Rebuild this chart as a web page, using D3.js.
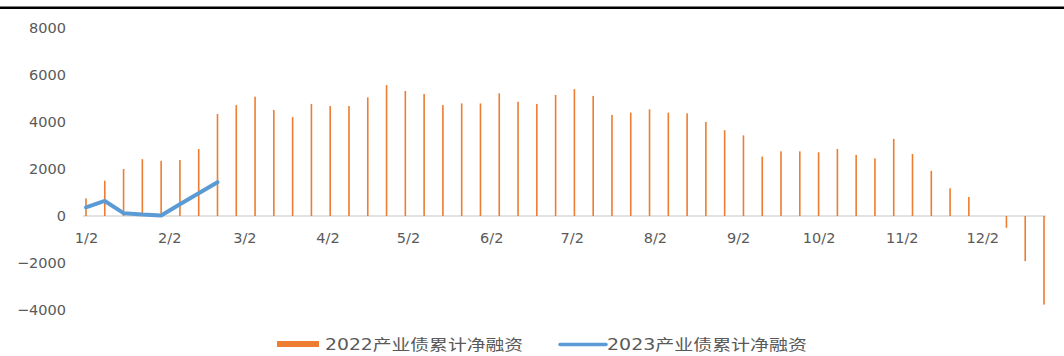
<!DOCTYPE html>
<html>
<head>
<meta charset="utf-8">
<script src="https://cdn.jsdelivr.net/npm/d3@7"></script>
<style>
  html, body { margin: 0; padding: 0; background: #fff; }
  svg { display: block; }
</style>
</head>
<body>
<svg id="chart" width="1064" height="356"></svg>
<script>
// Weekly observation dates (month/day) shared by both series
const weekDates = [
  "01-02","01-09","01-16","01-23","01-30","02-06","02-13","02-20","02-27",
  "03-06","03-13","03-20","03-27","04-03","04-10","04-17","04-24",
  "05-01","05-08","05-15","05-22","05-29","06-05","06-12","06-19","06-26",
  "07-03","07-10","07-17","07-24","07-31","08-07","08-14","08-21","08-28",
  "09-04","09-11","09-18","09-25","10-02","10-09","10-16","10-23","10-30",
  "11-06","11-13","11-20","11-27","12-04","12-11","12-18","12-25"
];

// 2022 cumulative net financing of industrial bonds (亿元), weekly
const net2022 = [
  750, 1500, 2000, 2420, 2350, 2380, 2850, 4340, 4720,
  5080, 4510, 4210, 4770, 4680, 4680, 5050, 5570,
  5320, 5190, 4720, 4790, 4790, 5220, 4860, 4770, 5150,
  5400, 5110, 4300, 4400, 4540, 4400, 4370, 4000, 3650,
  3430, 2530, 2750, 2750, 2710, 2850, 2600, 2450, 3280,
  2640, 1920, 1180, 810, null, -500, -1920, -3770
];

// 2023 cumulative net financing, first weeks of the year
const net2023 = [370, 640, 120, 60, 20, 500, 970, 1440];

const yTicks = [-4000, -2000, 0, 2000, 4000, 6000, 8000];
const monthTicks = ["01-02","02-02","03-02","04-02","05-02","06-02",
                    "07-02","08-02","09-02","10-02","11-02","12-02"];

const legendLabels = ["2022产业债累计净融资", "2023产业债累计净融资"];

const ORANGE = "#ED7D31", BLUE = "#5B9BD5", TEXT = "#595959", AXIS = "#D9D9D9";
const numFont = "'DejaVu Sans', 'Open Sans', sans-serif";
const cjkFont = "'DejaVu Sans', 'Noto Sans CJK SC', sans-serif";

const toDate = s => new Date(Date.UTC(2022, +s.slice(0, 2) - 1, +s.slice(3, 5)));
const dates = weekDates.map(toDate);

const svg = d3.select("#chart");

// heavy rule across the top
svg.append("rect")
  .attr("x", 0).attr("y", 6.5).attr("width", 1064).attr("height", 2.5)
  .attr("fill", "#000");

const x = d3.scaleUtc()
  .domain([dates[0], dates[dates.length - 1]])
  .range([86, 1044]);

const y = d3.scaleLinear()
  .domain([-4000, 8000])
  .range([310, 28]);

// Y axis labels
const yAxis = svg.append("g")
  .attr("transform", "translate(70,0)")
  .call(d3.axisLeft(y).tickValues(yTicks).tickSize(0).tickPadding(4)
        .tickFormat(d3.format("d")));
yAxis.select(".domain").remove();
yAxis.selectAll("text")
  .attr("fill", TEXT)
  .style("font-family", numFont)
  .style("font-size", "14.5px");

// zero line
svg.append("line")
  .attr("x1", x(dates[0]) - 3).attr("x2", x(dates[dates.length - 1]) + 2)
  .attr("y1", y(0)).attr("y2", y(0))
  .attr("stroke", AXIS).attr("stroke-width", 1.5);

// X axis month labels
const xAxis = svg.append("g")
  .attr("transform", `translate(0,${y(0)})`)
  .call(d3.axisBottom(x).tickValues(monthTicks.map(toDate)).tickSize(0)
        .tickFormat(d3.utcFormat("%-m/%-d")));
xAxis.select(".domain").remove();
xAxis.selectAll("text")
  .attr("y", 27).attr("dy", null)
  .attr("fill", TEXT)
  .style("font-family", numFont)
  .style("font-size", "14.5px");

// 2022 bars (thin columns)
const barW = 1.6;
svg.append("g")
  .selectAll("rect")
  .data(net2022.map((v, i) => ({ d: dates[i], v })).filter(p => p.v !== null))
  .join("rect")
  .attr("x", p => x(p.d) - barW / 2)
  .attr("width", barW)
  .attr("y", p => y(Math.max(0, p.v)))
  .attr("height", p => Math.abs(y(p.v) - y(0)))
  .attr("fill", ORANGE);

// 2023 line
const line = d3.line()
  .x((v, i) => x(dates[i]))
  .y(v => y(v));
svg.append("path")
  .datum(net2023)
  .attr("d", line)
  .attr("fill", "none")
  .attr("stroke", BLUE)
  .attr("stroke-width", 4)
  .attr("stroke-linejoin", "round")
  .attr("stroke-linecap", "round");

// Legend
const legend = svg.append("g");
legend.append("rect")
  .attr("x", 277).attr("y", 341).attr("width", 42).attr("height", 6)
  .attr("fill", ORANGE);
legend.append("text")
  .attr("x", 325).attr("y", 349.5)
  .attr("textLength", 198).attr("lengthAdjust", "spacingAndGlyphs")
  .attr("fill", TEXT)
  .style("font-family", cjkFont).style("font-size", "15px")
  .text(legendLabels[0]);
legend.append("line")
  .attr("x1", 560).attr("x2", 606).attr("y1", 344.5).attr("y2", 344.5)
  .attr("stroke", BLUE).attr("stroke-width", 3.5).attr("stroke-linecap", "round");
legend.append("text")
  .attr("x", 607).attr("y", 349.5)
  .attr("textLength", 200).attr("lengthAdjust", "spacingAndGlyphs")
  .attr("fill", TEXT)
  .style("font-family", cjkFont).style("font-size", "15px")
  .text(legendLabels[1]);
</script>
</body>
</html>
